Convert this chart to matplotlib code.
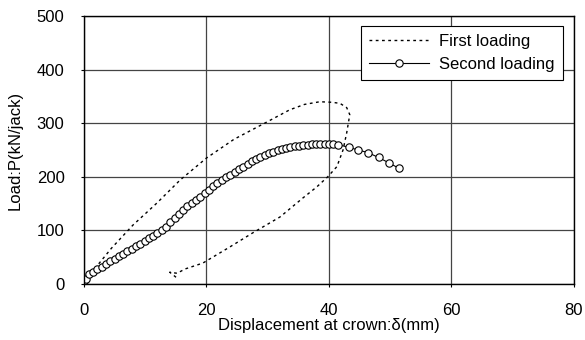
import matplotlib
matplotlib.use("Agg")
import matplotlib.pyplot as plt

plt.rcParams['font.family'] = ['Liberation Sans', 'DejaVu Sans']

# First loading (dotted loop)
first_x = [0, 2, 4.5, 8, 11.9, 15.7, 20, 24.5, 29.5, 33.6, 36, 38.5, 40.5, 41.8,
           42.9, 43.4, 42.9, 42.3, 41.3, 39.8, 38, 35.8, 32, 27.5, 23.8, 19.4, 16.5,
           15.2, 14, 15.2]
first_y = [0, 32, 67, 110, 151, 194, 235, 270, 300, 325, 335, 340, 339, 337,
           329, 316, 282, 250, 219, 200, 181, 161, 125, 95, 69, 39, 28,
           20, 22, 11]

# Second loading (line with circles)
second_x = [0, 0.3, 0.8, 1.5, 2.2, 2.9, 3.6, 4.3, 5.0, 5.7, 6.4, 7.1, 7.8, 8.5, 9.2,
            9.9, 10.6, 11.3, 12.0, 12.7, 13.4, 14.1, 14.8, 15.5, 16.2, 16.9, 17.6,
            18.3, 19.0, 19.7, 20.4, 21.1, 21.8, 22.5, 23.2, 23.9, 24.6, 25.3, 26.0,
            26.7, 27.4, 28.1, 28.8, 29.5, 30.2, 30.9, 31.6, 32.3, 33.0, 33.7, 34.4,
            35.1, 35.8, 36.5, 37.2, 37.9, 38.6, 39.3, 40.0, 40.7, 41.5, 43.2, 44.8,
            46.4, 48.1, 49.8, 51.4]
second_y = [5, 10, 18, 23, 28, 32, 37, 42, 47, 52, 56, 61, 65, 70, 75,
            80, 85, 90, 95, 101, 107, 115, 123, 131, 138, 145, 151,
            157, 163, 170, 176, 182, 188, 194, 199, 204, 209, 214, 219,
            224, 229, 233, 237, 241, 244, 247, 250, 252, 254, 256, 257,
            258, 259, 260, 261, 261, 262, 262, 262, 261, 260, 255, 250,
            245, 236, 226, 216]

fig = plt.figure(figsize=(5.85, 3.4), dpi=100)
ax = fig.add_axes([0.1436, 0.1647, 0.8374, 0.7883])

ax.plot(first_x, first_y, color='black', linestyle=(0, (2, 2.5)), linewidth=1.0,
        label='First loading')
ax.plot(second_x, second_y, color='black', linewidth=0.8, marker='o', markersize=5.3,
        markerfacecolor='white', markeredgecolor='black', markeredgewidth=0.8,
        label='Second loading')

ax.set_xlim(0, 80)
ax.set_ylim(0, 500)
ax.set_xticks([0, 20, 40, 60, 80])
ax.set_yticks([0, 100, 200, 300, 400, 500])
ax.grid(True, color='#444444', linewidth=0.9)
ax.set_axisbelow(True)
ax.tick_params(direction='out', length=2, labelsize=12, pad=12)
for s in ax.spines.values():
    s.set_linewidth(1.0)

ax.set_xlabel('Displacement at crown:δ(mm)', fontsize=12, labelpad=0)
ax.set_ylabel('Load:P(kN/jack)', fontsize=12, labelpad=10)

leg = ax.legend(loc='upper right', bbox_to_anchor=(0.9776, 0.9627), borderaxespad=0,
                fontsize=12, frameon=True, fancybox=False, edgecolor='black',
                framealpha=1, handlelength=3.6, borderpad=0.5, labelspacing=0.45,
                handletextpad=0.6)
leg.get_frame().set_linewidth(0.8)

fig.savefig('out.png', dpi=100)
